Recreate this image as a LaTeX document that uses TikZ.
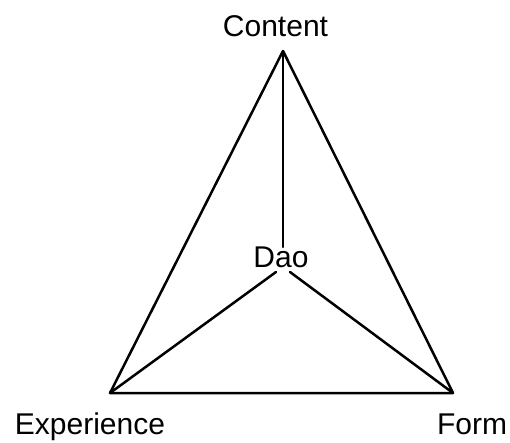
\documentclass[tikz,border=0pt]{standalone}
\usepackage{fontspec}
\setmainfont{Liberation Sans}
\begin{document}
\begin{tikzpicture}[x=1pt,y=-1pt,
  lbl/.style={inner sep=0pt,anchor=base,font=\fontsize{30}{36}\selectfont},
  edge/.style={draw=black,line width=2.5pt,line cap=round,line join=round}]
\useasboundingbox (0,0) rectangle (510,442);
\coordinate (T) at (283,51);
\coordinate (L) at (110,393);
\coordinate (R) at (453,393);
\coordinate (Dtop) at (283,247);
\coordinate (Dl) at (276,272);
\coordinate (Dr) at (290,272);
\node[lbl] (content) at (275.5,36) {Content};
\node[lbl] (dao) at (281,267) {Dao};
\node[lbl] (exp) at (90,434) {Experience};
\node[lbl] (form) at (472,434) {Form};
\draw[edge] (L) -- (T) -- (R) -- cycle;
\draw[edge] (T) -- (Dtop);
\draw[edge] (L) -- (Dl);
\draw[edge] (R) -- (Dr);
\end{tikzpicture}
\end{document}
